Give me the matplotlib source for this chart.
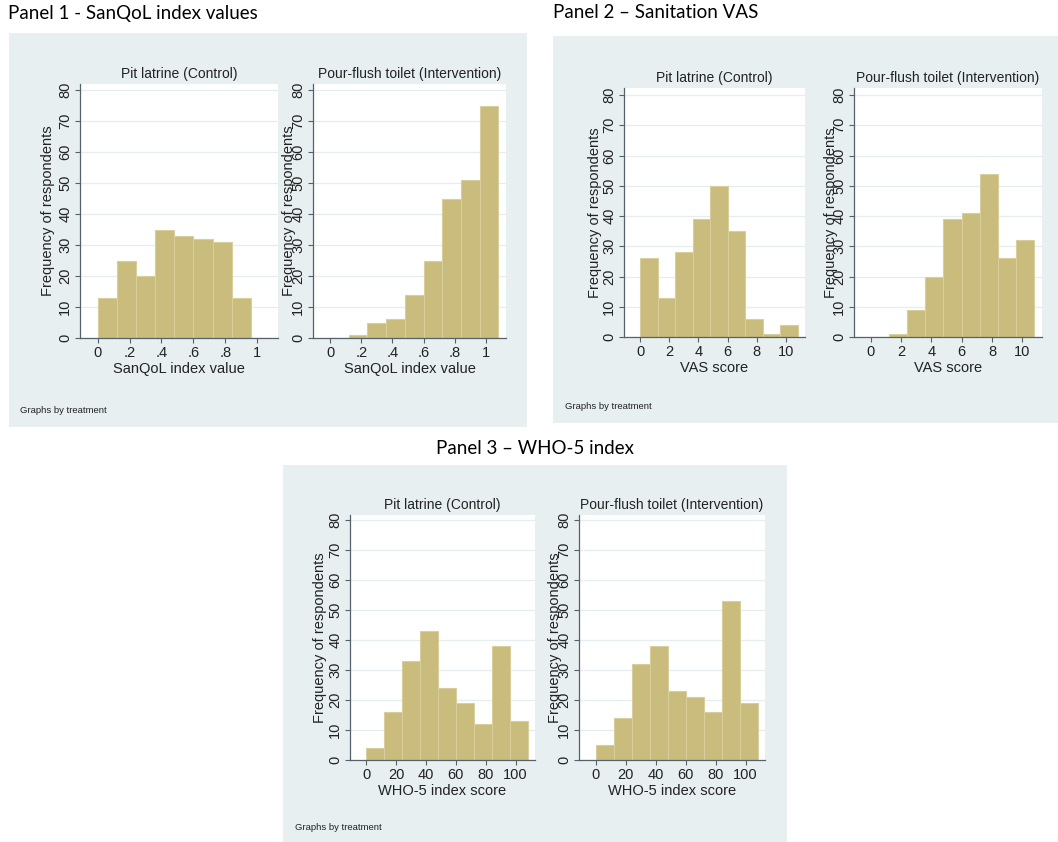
import numpy as np
import matplotlib
matplotlib.use('Agg')
import matplotlib.pyplot as plt
from matplotlib.patches import Rectangle

# --- data (9 common bins per measure) ---
sanqol_bin_start = 0.0
sanqol_bin_width = 0.12
sanqol_control = [13, 25, 20, 35, 33, 32, 31, 13, 0]
sanqol_intervention = [0, 1, 5, 6, 14, 25, 45, 51, 75]
sanqol_ticks = [0, 0.2, 0.4, 0.6, 0.8, 1]
sanqol_ticklabels = ['0', '.2', '.4', '.6', '.8', '1']

vas_bin_start = 0.0
vas_bin_width = 1.2
vas_control = [26, 13, 28, 39, 50, 35, 6, 1, 4]
vas_intervention = [0, 1, 9, 20, 39, 41, 54, 26, 32]
vas_ticks = [0, 2, 4, 6, 8, 10]
vas_ticklabels = ['0', '2', '4', '6', '8', '10']

who5_bin_start = 0.0
who5_bin_width = 12
who5_control = [4, 16, 33, 43, 24, 19, 12, 38, 13]
who5_intervention = [5, 14, 32, 38, 23, 21, 16, 53, 19]
who5_ticks = [0, 20, 40, 60, 80, 100]
who5_ticklabels = ['0', '20', '40', '60', '80', '100']

y_ticks = [0, 10, 20, 30, 40, 50, 60, 70, 80]
group_titles = ['Pit latrine (Control)', 'Pour-flush toilet (Intervention)']
ylabel = 'Frequency of respondents'
footer = 'Graphs by treatment'

# --- style ---
W, H = 1058, 842
BG = '#e8eff1'
BAR = '#c9bc7c'
BAR_EDGE = '#d8cf9d'
AXIS = '#55616a'
GRID = '#e6edf0'
STATA_FONT = 'Liberation Sans'
HEAD_FONT = 'Lato'

fig = plt.figure(figsize=(W / 100, H / 100), dpi=100)
fig.patch.set_facecolor('white')


def fx(x):
    return x / W


def fy(y):
    return 1 - y / H


def graph_box(x0, y0, x1, y1):
    fig.patches.append(Rectangle((fx(x0), fy(y1)), (x1 - x0) / W, (y1 - y0) / H,
                                 transform=fig.transFigure, facecolor=BG,
                                 edgecolor='none', zorder=-5))


def hist_panel(x0, x1, ytop, yzero, y80, xlim, start, width, counts,
               ticks, ticklabels, title, xlabel, ylab_x):
    ax = fig.add_axes([fx(x0), fy(yzero), (x1 - x0) / W, (yzero - ytop) / H])
    ax.set_zorder(2)
    ax.set_facecolor('white')
    edges = start + width * np.arange(len(counts))
    ax.bar(edges, counts, width=width, align='edge', color=BAR,
           edgecolor=BAR_EDGE, linewidth=0.8, zorder=2)
    ax.set_xlim(*xlim)
    ax.set_ylim(0, 80 * (yzero - ytop) / (yzero - y80))
    ax.set_xticks(ticks)
    ax.set_xticklabels(ticklabels)
    ax.set_yticks(y_ticks)
    ax.set_yticklabels([str(v) for v in y_ticks], rotation=90, va='center')
    for s in ['top', 'right']:
        ax.spines[s].set_visible(False)
    for s in ['left', 'bottom']:
        ax.spines[s].set_color(AXIS)
        ax.spines[s].set_linewidth(0.9)
    ax.tick_params(axis='both', length=3.5, width=0.8, color=AXIS,
                   labelsize=10.5, labelcolor='#222222', pad=2)
    for lab in ax.get_xticklabels() + ax.get_yticklabels():
        lab.set_fontfamily(STATA_FONT)
    ax.yaxis.grid(True, color=GRID, linewidth=0.9)
    ax.set_axisbelow(True)
    # subplot title, x title, y title
    cx = (x0 + x1) / 2
    fig.text(fx(cx), fy(ytop - 10), title, ha='center', va='center',
             fontsize=10, family=STATA_FONT, color='#222222', zorder=3)
    fig.text(fx(cx), fy(yzero + 31), xlabel, ha='center', va='center',
             fontsize=10.5, family=STATA_FONT, color='#222222', zorder=3)
    fig.text(fx(ylab_x), fy((ytop + yzero) / 2), ylabel, ha='center', va='center',
             rotation=90, fontsize=10.5, family=STATA_FONT, color='#222222',
             zorder=3)
    return ax


def panel_heading(x, y, text, ha='left'):
    fig.text(fx(x), fy(y), text, ha=ha, va='center', fontsize=13.5,
             family=HEAD_FONT, color='black')


def graphs_by(x, y):
    fig.text(fx(x), fy(y), footer, ha='left', va='center', fontsize=6.8,
             family=STATA_FONT, color='#222222')


# Panel 1 - SanQoL
panel_heading(8, 13, 'Panel 1 - SanQoL index values')
graph_box(9, 33, 527, 427)
hist_panel(80, 278, 84, 338, 90, (-0.11, 1.13), sanqol_bin_start, sanqol_bin_width,
           sanqol_control, sanqol_ticks, sanqol_ticklabels, group_titles[0],
           'SanQoL index value', 48)
hist_panel(313, 506, 84, 338, 90, (-0.11, 1.13), sanqol_bin_start, sanqol_bin_width,
           sanqol_intervention, sanqol_ticks, sanqol_ticklabels, group_titles[1],
           'SanQoL index value', 289)
graphs_by(20, 410)

# Panel 2 - VAS (graph region runs to the right edge of the page)
panel_heading(553, 13, 'Panel 2 \u2013 Sanitation VAS')
graph_box(553, 36, 1058, 423)
hist_panel(624, 805, 88, 337, 95, (-1.1, 11.3), vas_bin_start, vas_bin_width,
           vas_control, vas_ticks, vas_ticklabels, group_titles[0],
           'VAS score', 595)
hist_panel(854, 1042, 88, 337, 95, (-1.1, 11.3), vas_bin_start, vas_bin_width,
           vas_intervention, vas_ticks, vas_ticklabels, group_titles[1],
           'VAS score', 831)
graphs_by(565, 407)

# Panel 3 - WHO-5 (graph region runs to the bottom of the page)
panel_heading(535, 449, 'Panel 3 \u2013 WHO-5 index', ha='center')
graph_box(283, 465, 787, 842)
hist_panel(350, 535, 515, 760, 520, (-11, 113), who5_bin_start, who5_bin_width,
           who5_control, who5_ticks, who5_ticklabels, group_titles[0],
           'WHO-5 index score', 320)
hist_panel(579, 765, 515, 760, 520, (-11, 113), who5_bin_start, who5_bin_width,
           who5_intervention, who5_ticks, who5_ticklabels, group_titles[1],
           'WHO-5 index score', 555)
graphs_by(295, 827)

fig.savefig('out.png', dpi=100, facecolor='white')
